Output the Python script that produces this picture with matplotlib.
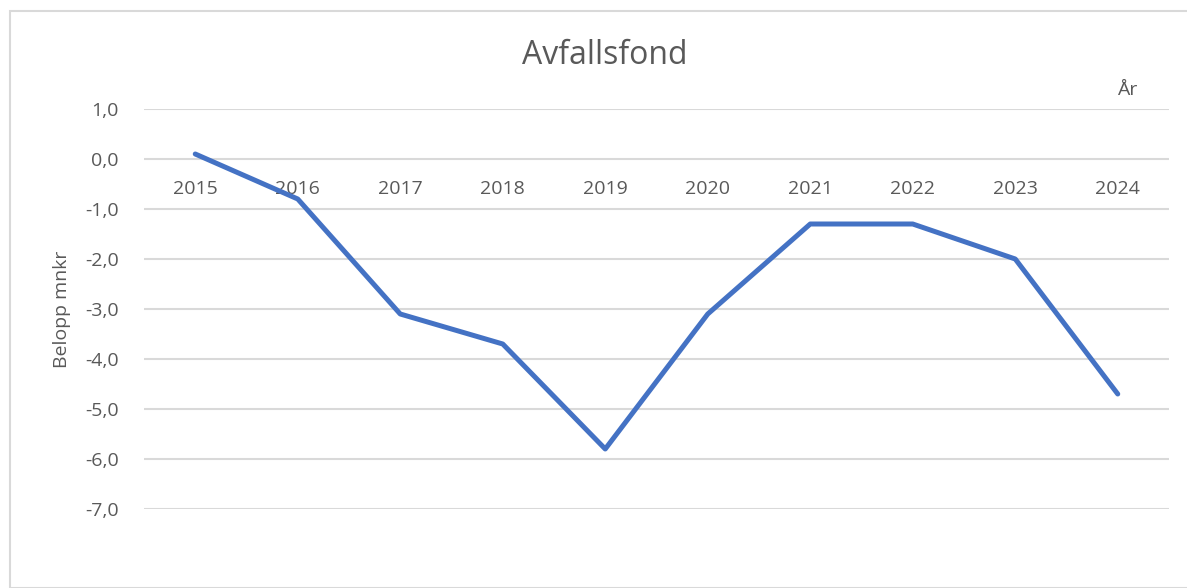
import matplotlib
matplotlib.use("Agg")
import matplotlib.pyplot as plt
from matplotlib.patches import Rectangle
from matplotlib.ticker import FixedLocator, FuncFormatter

years = ["2015", "2016", "2017", "2018", "2019", "2020", "2021", "2022", "2023", "2024"]
values = [0.1, -0.8, -3.1, -3.7, -5.8, -3.1, -1.3, -1.3, -2.0, -4.7]
yticks = [1, 0, -1, -2, -3, -4, -5, -6, -7]

plt.rcParams['font.family'] = ['Open Sans', 'DejaVu Sans']
txt = '#595959'
grid = '#d9d9d9'

W, H = 1187, 588
fig = plt.figure(figsize=(W/100, H/100), dpi=100)
fig.patches.append(Rectangle((10/W, 0), 1.2, 1 - 11/H, transform=fig.transFigure,
                             fill=False, edgecolor=grid, linewidth=1.5, zorder=0))

ax = fig.add_axes([144/W, 1 - 509/H, (1169-144)/W, (509-109)/H])
x = list(range(len(years)))
ax.plot(x, values, color='#4472C4', linewidth=3.6, solid_capstyle='round', zorder=3)
ax.set_xlim(-0.5, len(years) - 0.5)
ax.set_ylim(-7, 1)

ax.yaxis.set_major_locator(FixedLocator(yticks))
ax.yaxis.set_major_formatter(FuncFormatter(lambda v, p: f"{v:.1f}".replace('.', ',')))
ax.grid(axis='y', color=grid, linewidth=1.5)
ax.set_axisbelow(True)

ax.set_xticks(x)
ax.set_xticklabels(years)
ax.spines['bottom'].set_position(('data', 0))
for s in ax.spines.values():
    s.set_visible(False)
ax.tick_params(axis='both', length=0, labelsize=14, labelcolor=txt)
ax.tick_params(axis='x', pad=15)
ax.tick_params(axis='y', pad=18)

ax.set_ylabel("Belopp mnkr", fontsize=14, color=txt, labelpad=10)
fig.text(605/W, 1 - 55/H, "Avfallsfond", ha='center', va='center', fontsize=23, color=txt)
fig.text(1127/W, 1 - 90/H, "År", ha='center', va='center', fontsize=14, color=txt)

fig.savefig("out.png", dpi=100, facecolor='white')
